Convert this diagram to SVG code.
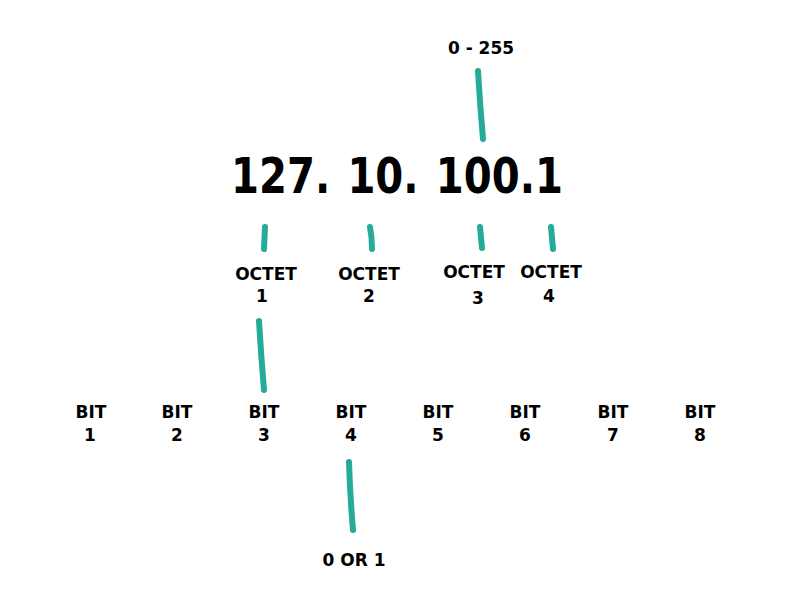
<svg xmlns="http://www.w3.org/2000/svg" width="788" height="605" viewBox="0 0 788 605">
<style>
.t{font-family:"DejaVu Sans","Liberation Sans",sans-serif;font-weight:bold;font-size:17px;fill:#000;text-anchor:middle}
.big{font-family:"DejaVu Sans","Liberation Sans",sans-serif;font-weight:bold;font-size:50px;fill:#000}
.c{stroke:#26ab99;stroke-width:6;stroke-linecap:round;fill:none}
</style>
<rect width="788" height="605" fill="#fff"/>
<g id="connectors">
<path class="c" d="M478 71 Q480 105 483 139"/>
<path class="c" d="M265 227 L264 249"/>
<path class="c" d="M370 227 Q372 237 372 249"/>
<path class="c" d="M480 227 L482 248"/>
<path class="c" d="M551 227 L553 249"/>
<path class="c" d="M259 321 Q261 355 264 390"/>
<path class="c" d="M349 462 Q350 495 353 530"/>
</g>
<g id="range"><text class="t" x="481" y="54">0 - 255</text></g>
<g id="ip">
<text class="big" x="231" y="193" textLength="332" lengthAdjust="spacingAndGlyphs" word-spacing="4">127. 10. 100.1</text>
</g>
<g id="octet1"><text class="t" x="266" y="280">OCTET</text><text class="t" x="262" y="302">1</text></g>
<g id="octet2"><text class="t" x="369" y="280">OCTET</text><text class="t" x="369" y="302">2</text></g>
<g id="octet3"><text class="t" x="474" y="278">OCTET</text><text class="t" x="478" y="304">3</text></g>
<g id="octet4"><text class="t" x="551" y="278">OCTET</text><text class="t" x="549" y="302">4</text></g>
<g id="bit1"><text class="t" x="91" y="418">BIT</text><text class="t" x="90" y="441">1</text></g>
<g id="bit2"><text class="t" x="177" y="418">BIT</text><text class="t" x="177" y="441">2</text></g>
<g id="bit3"><text class="t" x="264" y="418">BIT</text><text class="t" x="264" y="441">3</text></g>
<g id="bit4"><text class="t" x="351" y="418">BIT</text><text class="t" x="351" y="441">4</text></g>
<g id="bit5"><text class="t" x="438" y="418">BIT</text><text class="t" x="438" y="441">5</text></g>
<g id="bit6"><text class="t" x="525" y="418">BIT</text><text class="t" x="525" y="441">6</text></g>
<g id="bit7"><text class="t" x="613" y="418">BIT</text><text class="t" x="613" y="441">7</text></g>
<g id="bit8"><text class="t" x="700" y="418">BIT</text><text class="t" x="700" y="441">8</text></g>
<g id="binary"><text class="t" x="354" y="566">0 OR 1</text></g>
</svg>
